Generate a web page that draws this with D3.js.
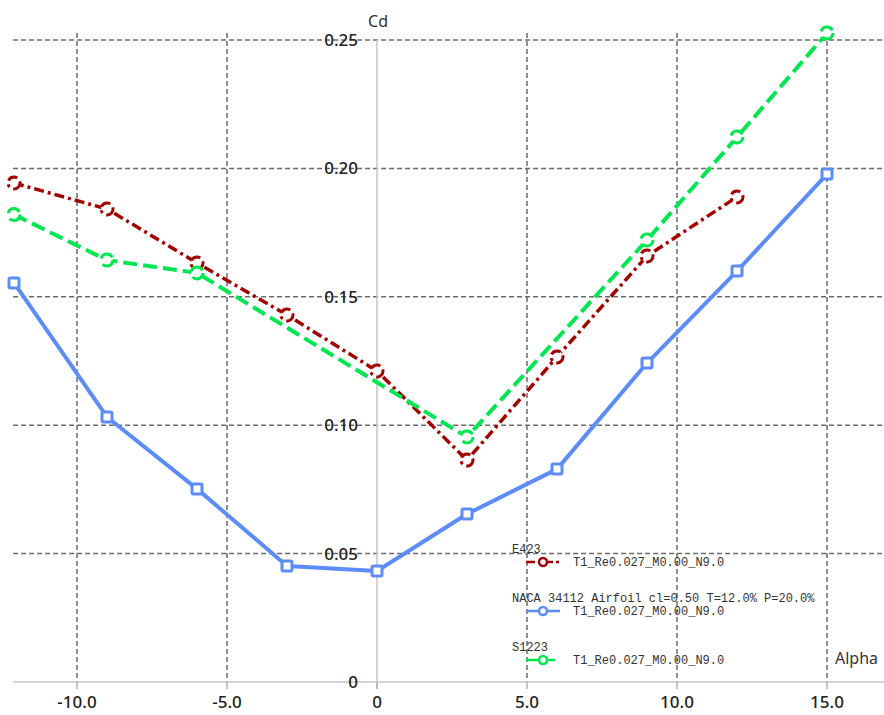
<!DOCTYPE html>
<html>
<head>
<meta charset="utf-8">
<script src="https://cdn.jsdelivr.net/npm/d3@7"></script>
<style>
  body { margin: 0; background: #fff; }
  svg { display: block; }
</style>
</head>
<body>
<svg id="polarChart"></svg>
<script>
// values
var alphaE423 = [-12.1, -9, -6, -3, 0, 3, 6, 9, 12];
var cdE423 = [0.1943, 0.1842, 0.1632, 0.1429, 0.1211, 0.0864, 0.1266, 0.1659, 0.1889];

var alphaNaca = [-12.1, -9, -6, -3, 0, 3, 6, 9, 12, 15];
var cdNaca = [0.1554, 0.1032, 0.0752, 0.0452, 0.0432, 0.0654, 0.0829, 0.1242, 0.1600, 0.1978];

var alphaS1223 = [-12.1, -9, -6, 3, 9, 12, 15];
var cdS1223 = [0.1820, 0.1643, 0.1593, 0.0954, 0.1721, 0.2122, 0.2527];

var xTicks = [-10, -5, 0, 5, 10, 15];
var xTickLabels = ["-10.0", "-5.0", "0", "5.0", "10.0", "15.0"];
var yTicks = [0, 0.05, 0.10, 0.15, 0.20, 0.25];
var yTickLabels = ["0", "0.05", "0.10", "0.15", "0.20", "0.25"];

var polarNames = ["E423", "NACA 34112 Airfoil cl=0.50 T=12.0% P=20.0%", "S1223"];
var curveName = "T1_Re0.027_M0.00_N9.0";

var width = 884, height = 715;

var svg = d3.select("#polarChart")
  .attr("width", width)
  .attr("height", height);

// X scale / Y scale (pixels picked to match the xflr5 view)
var x = d3.scaleLinear().domain([-10, 15]).range([77, 827]);
var y = d3.scaleLinear().domain([0, 0.25]).range([682, 40]);
var xLeft = x(-12.13), xRight = width;

var series = [
  { alpha: alphaE423, cd: cdE423, color: "#a30000", dash: "10,4,3,4", width: 3.5, marker: "circle" },
  { alpha: alphaNaca, cd: cdNaca, color: "#5b8cf8", dash: null, width: 4, marker: "square" },
  { alpha: alphaS1223, cd: cdS1223, color: "#00e650", dash: "14,6", width: 4, marker: "circle" }
];

// grid
var grid = svg.append("g");
grid.selectAll("line.h")
  .data(yTicks.filter(function (d) { return d > 0; }))
  .enter()
  .append("line")
    .attr("x1", xLeft).attr("x2", xRight)
    .attr("y1", function (d) { return y(d); })
    .attr("y2", function (d) { return y(d); })
    .attr("stroke", "#6a6a6a")
    .attr("stroke-width", 1.5)
    .attr("stroke-dasharray", "5,3");

grid.selectAll("line.v")
  .data(xTicks.filter(function (d) { return d !== 0; }))
  .enter()
  .append("line")
    .attr("x1", function (d) { return x(d); })
    .attr("x2", function (d) { return x(d); })
    .attr("y1", 33).attr("y2", y(0))
    .attr("stroke", "#6a6a6a")
    .attr("stroke-width", 1.5)
    .attr("stroke-dasharray", "5,3");

// axes
svg.append("line")
  .attr("x1", xLeft).attr("x2", xRight)
  .attr("y1", y(0)).attr("y2", y(0))
  .attr("stroke", "#c4c4c4")
  .attr("stroke-width", 1.5);

svg.append("line")
  .attr("x1", x(0)).attr("x2", x(0))
  .attr("y1", y(0.25)).attr("y2", y(0) + 7)
  .attr("stroke", "#c4c4c4")
  .attr("stroke-width", 1.5);

svg.append("g")
  .selectAll("line")
  .data(xTicks)
  .enter()
  .append("line")
    .attr("x1", function (d) { return x(d); })
    .attr("x2", function (d) { return x(d); })
    .attr("y1", y(0)).attr("y2", y(0) + 7)
    .attr("stroke", "#b0b0b0")
    .attr("stroke-width", 1.5);

// tick labels
svg.append("g")
  .selectAll("text")
  .data(xTicks)
  .enter()
  .append("text")
    .attr("x", function (d) { return x(d); })
    .attr("y", 708)
    .attr("text-anchor", "middle")
    .attr("font-family", "'Noto Sans', sans-serif")
    .attr("font-size", 17)
    .attr("font-weight", 500)
    .attr("fill", "#222")
    .text(function (d, i) { return xTickLabels[i]; });

svg.append("g")
  .selectAll("text")
  .data(yTicks)
  .enter()
  .append("text")
    .attr("x", 358)
    .attr("y", function (d) { return y(d) + 6; })
    .attr("text-anchor", "end")
    .attr("font-family", "'Noto Sans', sans-serif")
    .attr("font-size", 17)
    .attr("font-weight", 500)
    .attr("fill", "#222")
    .text(function (d, i) { return yTickLabels[i]; });

svg.append("text")
  .attr("x", 378).attr("y", 27)
  .attr("text-anchor", "middle")
  .attr("font-family", "'Noto Sans', sans-serif")
  .attr("font-size", 16)
  .attr("fill", "#333")
  .text("Cd");

svg.append("text")
  .attr("x", 835).attr("y", 664)
  .attr("font-family", "'Noto Sans', sans-serif")
  .attr("font-size", 16)
  .attr("fill", "#333")
  .text("Alpha");

// curves
var line = d3.line()
  .x(function (d) { return x(d[0]); })
  .y(function (d) { return y(d[1]); });

series.forEach(function (s) {
  var pts = s.alpha.map(function (a, i) { return [a, s.cd[i]]; });
  var g = svg.append("g");
  g.append("path")
    .datum(pts)
    .attr("d", line)
    .attr("fill", "none")
    .attr("stroke", s.color)
    .attr("stroke-width", s.width)
    .attr("stroke-linejoin", "round")
    .attr("stroke-dasharray", s.dash);

  if (s.marker === "square") {
    g.selectAll("rect")
      .data(pts)
      .enter()
      .append("rect")
        .attr("x", function (d) { return x(d[0]) - 5; })
        .attr("y", function (d) { return y(d[1]) - 5; })
        .attr("width", 10).attr("height", 10)
        .attr("rx", 1.5)
        .attr("fill", "#fff")
        .attr("stroke", s.color)
        .attr("stroke-width", 3);
  } else {
    g.selectAll("circle")
      .data(pts)
      .enter()
      .append("circle")
        .attr("cx", function (d) { return x(d[0]); })
        .attr("cy", function (d) { return y(d[1]); })
        .attr("r", 6)
        .attr("fill", "#fff")
        .attr("stroke", s.color)
        .attr("stroke-width", 3)
        .attr("stroke-dasharray", s.dash);
  }
});

// legend
var legend = svg.append("g")
  .attr("font-family", "'Liberation Mono', monospace")
  .attr("font-size", 12)
  .attr("fill", "#333");

series.forEach(function (s, i) {
  var top = 549 + i * 49;
  legend.append("text")
    .attr("x", 512).attr("y", top + 4)
    .text(polarNames[i]);
  legend.append("line")
    .attr("x1", 526).attr("x2", 560)
    .attr("y1", top + 13).attr("y2", top + 13)
    .attr("stroke", s.color)
    .attr("stroke-width", 2.5)
    .attr("stroke-dasharray", s.dash ? (i === 0 ? "9,3,3,3" : "12,5") : null);
  legend.append("circle")
    .attr("cx", 543).attr("cy", top + 13)
    .attr("r", 4)
    .attr("fill", "#fff")
    .attr("stroke", s.color)
    .attr("stroke-width", 2.5);
  legend.append("text")
    .attr("x", 573).attr("y", top + 17)
    .text(curveName);
});
</script>
</body>
</html>
